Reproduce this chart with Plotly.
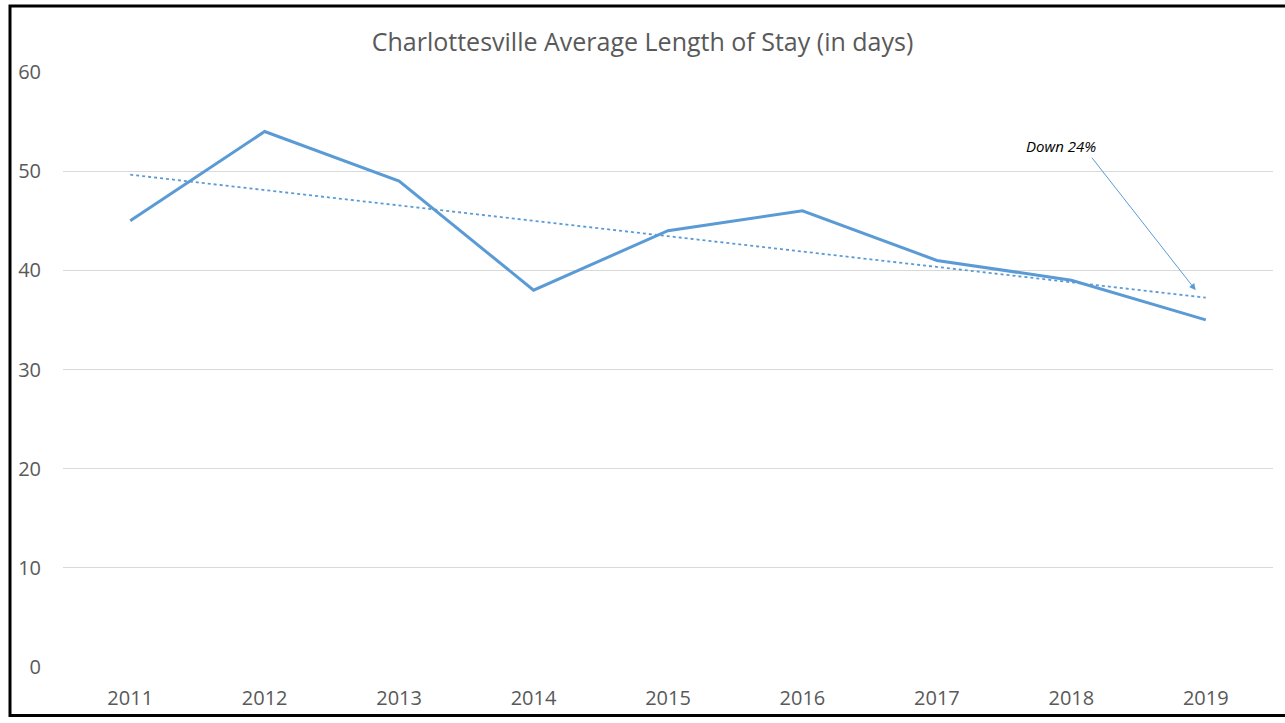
import numpy as np
import plotly.graph_objects as go

years = ["2011", "2012", "2013", "2014", "2015", "2016", "2017", "2018", "2019"]
avg_stay = [45, 54, 49, 38, 44, 46, 41, 39, 35]
y_ticks = [0, 10, 20, 30, 40, 50, 60]

# linear trendline computed from the data
xi = np.arange(len(years))
slope, intercept = np.polyfit(xi, avg_stay, 1)
trend = (slope * xi + intercept).tolist()

LINE = "#5B9BD5"
TXT = "#595959"
FONT = "Open Sans"

fig = go.Figure()
fig.add_trace(go.Scatter(x=years, y=trend, mode="lines",
                         line=dict(color=LINE, width=1.8, dash="dot"),
                         hoverinfo="skip", showlegend=False))
fig.add_trace(go.Scatter(x=years, y=avg_stay, mode="lines",
                         line=dict(color=LINE, width=3),
                         showlegend=False))

fig.add_annotation(x=7.925, y=38.0, xref="x", yref="y",
                   ax=-105, ay=-134, axref="pixel", ayref="pixel",
                   showarrow=True, arrowhead=2, arrowsize=1.3, arrowwidth=1,
                   arrowcolor=LINE, text="", standoff=0)
fig.add_annotation(x=6.92, y=52.5, xref="x", yref="y", showarrow=False,
                   text="<i>Down 24%</i>", font=dict(family=FONT, size=15, color="#000000"))

fig.add_shape(type="rect", xref="paper", yref="paper",
              x0=-0.0438, x1=1.02, y0=-0.0817, y1=1.1108,
              line=dict(color="#000000", width=3), fillcolor="rgba(0,0,0,0)")

fig.update_layout(
    width=1285, height=723,
    margin=dict(l=63, r=12, t=72, b=51),
    paper_bgcolor="white", plot_bgcolor="white",
    title=dict(text="Charlottesville Average Length of Stay (in days)",
               x=0.5, xanchor="center", y=0.942, yanchor="middle",
               font=dict(family=FONT, size=25, color=TXT)),
    font=dict(family=FONT, color=TXT),
    xaxis=dict(type="category", range=[-0.5, 8.5], showgrid=False, zeroline=False,
               showline=False, ticks="", tickfont=dict(size=20, color=TXT),
               ticklabelstandoff=17),
    yaxis=dict(range=[0, 60], tickvals=y_ticks, showgrid=True, gridcolor="#D9D9D9",
               gridwidth=1, zeroline=False, showline=False, ticks="",
               tickfont=dict(size=20, color=TXT), ticklabelstandoff=21),
)

fig.write_html("out.html", config={"displayModeBar": False},
               post_script="document.body.style.margin='0';document.body.style.overflow='hidden';")
